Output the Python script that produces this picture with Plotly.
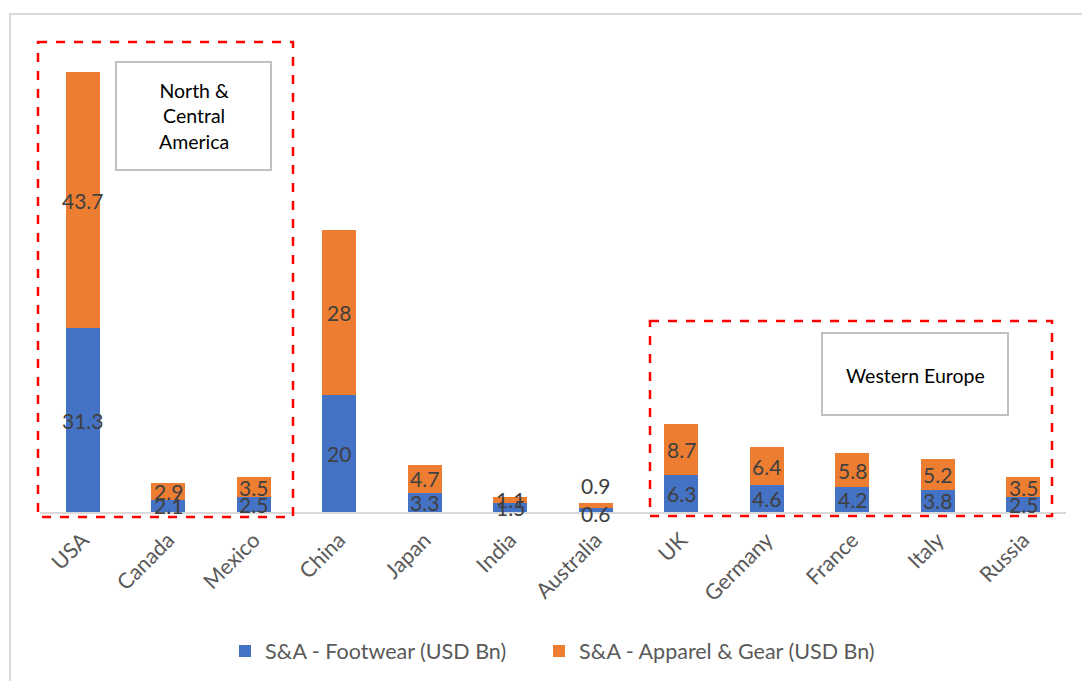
import plotly.graph_objects as go

categories = ["USA", "Canada", "Mexico", "China", "Japan", "India", "Australia",
              "UK", "Germany", "France", "Italy", "Russia"]
footwear = [31.3, 2.1, 2.5, 20, 3.3, 1.5, 0.6, 6.3, 4.6, 4.2, 3.8, 2.5]
apparel = [43.7, 2.9, 3.5, 28, 4.7, 1.1, 0.9, 8.7, 6.4, 5.8, 5.2, 3.5]
footwear_name = "S&A - Footwear (USD Bn)"
apparel_name = "S&A - Apparel & Gear (USD Bn)"

W, H = 1082, 681
ML, MR, MT, MB = 40, 16, 30, 169
PW, PH = W - ML - MR, H - MT - MB
YMAX = 82.15

BLUE = "#4472C4"
ORANGE = "#ED7D31"
FONT = "Lato"

def px(x):
    return (x - ML) / PW

def py(y):
    return (H - MB - y) / PH

fig = go.Figure()
fig.add_trace(go.Bar(x=categories, y=footwear, name=footwear_name, legend="legend",
                     marker=dict(color=BLUE, line=dict(width=0)), width=0.4))
fig.add_trace(go.Bar(x=categories, y=apparel, name=apparel_name, legend="legend2",
                     marker=dict(color=ORANGE, line=dict(width=0)), width=0.4))

annotations = []
for c, f, a in zip(categories, footwear, apparel):
    ys_f, ys_a = 0, 0
    if c == "Australia":
        ys_f, ys_a = -3, 20
    annotations.append(dict(x=c, y=f / 2, text=f"{f:g}", showarrow=False, yshift=ys_f,
                            xanchor="center", yanchor="middle",
                            font=dict(family=FONT, size=21, color="#404040")))
    annotations.append(dict(x=c, y=f + a / 2, text=f"{a:g}", showarrow=False, yshift=ys_a,
                            xanchor="center", yanchor="middle",
                            font=dict(family=FONT, size=21, color="#404040")))

# region label boxes
annotations.append(dict(xref="paper", yref="paper", x=px(193.5), y=py(116), text="North &<br>Central<br>America",
                        xanchor="center", yanchor="middle",
                        showarrow=False, font=dict(family=FONT, size=19.5, color="#000000")))
annotations.append(dict(xref="paper", yref="paper", x=px(915), y=py(375), text="Western Europe",
                        xanchor="center", yanchor="middle",
                        showarrow=False, font=dict(family=FONT, size=19.5, color="#000000")))

shapes = [
    # outer chart border
    dict(type="rect", xref="paper", yref="paper", x0=px(10), x1=px(1100), y0=py(14), y1=py(700),
         line=dict(color="#D9D9D9", width=2), layer="below"),
    # red dashed regions
    dict(type="rect", xref="paper", yref="paper", x0=px(38), x1=px(293), y0=py(42), y1=py(517),
         line=dict(color="#FF0000", width=2.5, dash="dash")),
    dict(type="rect", xref="paper", yref="paper", x0=px(650), x1=px(1052), y0=py(321), y1=py(516),
         line=dict(color="#FF0000", width=2.5, dash="dash")),
    # gray text boxes
    dict(type="rect", xref="paper", yref="paper", x0=px(116), x1=px(271), y0=py(62), y1=py(170),
         line=dict(color="#BFBFBF", width=2), fillcolor="white", layer="below"),
    dict(type="rect", xref="paper", yref="paper", x0=px(822), x1=px(1008), y0=py(333), y1=py(415),
         line=dict(color="#BFBFBF", width=2), fillcolor="white", layer="below"),
]

legend_common = dict(orientation="h", xanchor="left", y=py(651), yanchor="middle",
                     font=dict(family=FONT, size=21.5, color="#595959"), itemwidth=30,
                     bgcolor="rgba(0,0,0,0)")

fig.update_layout(
    width=W, height=H,
    margin=dict(l=ML, r=MR, t=MT, b=MB, autoexpand=False),
    barmode="stack",
    plot_bgcolor="rgba(0,0,0,0)", paper_bgcolor="white",
    font=dict(family=FONT, color="#595959"),
    showlegend=True,
    legend=dict(x=px(225), **legend_common),
    legend2=dict(x=px(539), **legend_common),
    xaxis=dict(tickangle=-45, tickfont=dict(family=FONT, size=21.5, color="#595959"),
               showline=True, linecolor="#D9D9D9", linewidth=2, ticks="outside", ticklen=5,
               tickcolor="rgba(0,0,0,0)", showgrid=False, range=[-0.5, 11.5], automargin=False),
    yaxis=dict(range=[0, YMAX], visible=False, showgrid=False, zeroline=False),
    annotations=annotations,
    shapes=shapes,
)

fig.write_html("out.html", config={"displayModeBar": False},
               post_script="document.body.style.margin='0';document.body.style.overflow='hidden';")
